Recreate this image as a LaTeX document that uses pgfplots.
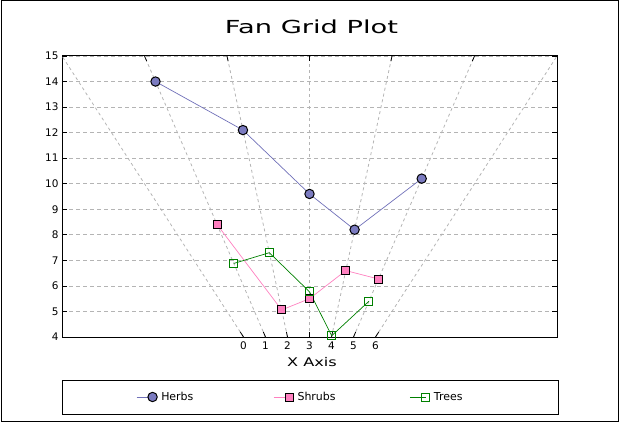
\documentclass[border=0pt]{standalone}
\usepackage{pgfplots}
\pgfplotsset{compat=1.18}
\usepackage{graphicx}
\usepackage{fontspec}
\setmainfont{DejaVu Sans}
\definecolor{herbs}{HTML}{7B7BC0}
\definecolor{herbline}{HTML}{7070B8}
\definecolor{shrubs}{HTML}{FF80C0}
\definecolor{trees}{HTML}{008000}
\definecolor{gridc}{HTML}{B4B4B4}
\begin{document}
\begin{tikzpicture}[x=1bp,y=1bp]
\useasboundingbox (0,0) rectangle (622,423);
\draw[line width=1bp] (1,1.5) rectangle (618.5,422.5);
\node[font=\fontsize{18}{20}\selectfont, inner sep=0pt] at (311.5,396.5) {\scalebox{1.52}[1]{Fan Grid Plot}};
\node[font=\fontsize{12}{14}\selectfont, inner sep=0pt] at (312,61) {\scalebox{1.35}[1]{X Axis}};
\draw[line width=1bp] (62.5,9) rectangle (558,43);
\begin{axis}[
  at={(62bp,86bp)}, anchor=south west, scale only axis,
  width=495bp, height=281bp,
  xmin=-8.25, xmax=14.25, ymin=4, ymax=15,
  clip=false,
  axis line style={line width=1bp},
  tick align=inside,
  major tick length=5bp,
  xtick={0,1,2,3,4,5,6},
  xtick style={draw=none},
  xtick pos=bottom,
  ytick={4,5,...,15},
  ytick pos=both, yticklabel pos=left,
  ytick style={line width=0.8bp, black},
  ymajorgrids,
  grid style={gridc, dash pattern=on 4bp off 3bp, line width=0.8bp},
  tick label style={font=\fontsize{10.5}{12}\selectfont},
  /pgf/number format/assume math mode=true,
  yticklabel style={xshift=0bp},
  xticklabel style={yshift=-1bp},
  legend columns=3,
  legend style={draw=none, fill=none, at={(0.1495,-0.2135)}, anchor=west,
    font=\fontsize{11}{13}\selectfont, inner sep=0pt,
    /tikz/every odd column/.append style={column sep=2bp}},
  legend image code/.code={\draw[mark repeat=2,mark phase=2,#1] plot coordinates {(0bp,0bp) (16bp,0bp)};},
]
% fan grid lines
\addplot[gridc, dash pattern=on 3bp off 3bp, line width=0.8bp, forget plot] coordinates {(0,4) (-8.25,15)};
\addplot[gridc, dash pattern=on 3bp off 3bp, line width=0.8bp, forget plot] coordinates {(1,4) (-4.5,15)};
\addplot[gridc, dash pattern=on 3bp off 3bp, line width=0.8bp, forget plot] coordinates {(2,4) (-0.75,15)};
\addplot[gridc, dash pattern=on 3bp off 3bp, line width=0.8bp, forget plot] coordinates {(3,4) (3,15)};
\addplot[gridc, dash pattern=on 3bp off 3bp, line width=0.8bp, forget plot] coordinates {(4,4) (6.75,15)};
\addplot[gridc, dash pattern=on 3bp off 3bp, line width=0.8bp, forget plot] coordinates {(5,4) (10.5,15)};
\addplot[gridc, dash pattern=on 3bp off 3bp, line width=0.8bp, forget plot] coordinates {(6,4) (14.25,15)};
% slanted ticks bottom
\addplot[black, line width=0.8bp, forget plot] coordinates {(0,4) (-0.15,4.2)};
\addplot[black, line width=0.8bp, forget plot] coordinates {(1,4) (0.9,4.2)};
\addplot[black, line width=0.8bp, forget plot] coordinates {(2,4) (1.95,4.2)};
\addplot[black, line width=0.8bp, forget plot] coordinates {(3,4) (3,4.2)};
\addplot[black, line width=0.8bp, forget plot] coordinates {(4,4) (4.05,4.2)};
\addplot[black, line width=0.8bp, forget plot] coordinates {(5,4) (5.1,4.2)};
\addplot[black, line width=0.8bp, forget plot] coordinates {(6,4) (6.15,4.2)};
% slanted ticks top
\addplot[black, line width=0.8bp, forget plot] coordinates {(-4.5,15) (-4.4,14.8)};
\addplot[black, line width=0.8bp, forget plot] coordinates {(-0.75,15) (-0.7,14.8)};
\addplot[black, line width=0.8bp, forget plot] coordinates {(3,15) (3,14.8)};
\addplot[black, line width=0.8bp, forget plot] coordinates {(6.75,15) (6.7,14.8)};
\addplot[black, line width=0.8bp, forget plot] coordinates {(10.5,15) (10.4,14.8)};
% data
\addplot[herbline, line width=0.7bp, mark=*, mark size=4.7bp,
  mark options={fill=herbs, draw=black, line width=1bp}]
  coordinates {(-4,14) (-0.025,12.1) (3,9.6) (5.05,8.2) (8.1,10.2)};
\addlegendentry{\makebox[110bp][l]{Herbs}}
\addplot[shrubs, line width=0.7bp, mark=square*, mark size=4bp,
  mark options={fill=shrubs, draw=black, line width=1bp}]
  coordinates {(-1.2,8.4) (1.735,5.06) (3,5.5) (4.65,6.6) (6.135,6.27)};
\addlegendentry{\makebox[110bp][l]{Shrubs}}
\addplot[trees, line width=0.7bp, mark=square, mark size=4bp,
  mark options={draw=trees, fill=none, line width=1bp}]
  coordinates {(-0.44,6.88) (1.175,7.3) (3,5.77) (4.01,4.05) (5.7,5.4)};
\addlegendentry{Trees}
\end{axis}
\end{tikzpicture}
\end{document}
